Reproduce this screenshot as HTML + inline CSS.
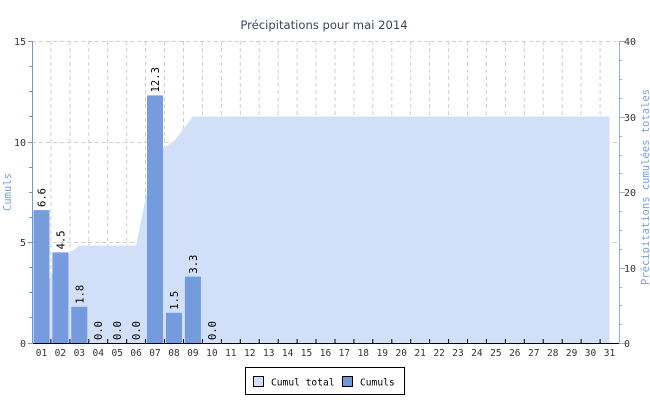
<!DOCTYPE html>
<html><head><meta charset="utf-8"><style>
html,body{margin:0;padding:0;background:#fff;}
svg{display:block;}
text{font-family:"DejaVu Sans Mono","Liberation Mono",monospace;}
</style></head><body>
<svg width="650" height="400" viewBox="0 0 650 400">
<text x="324" y="29" text-anchor="middle" style="font-family:'DejaVu Sans','Liberation Sans',sans-serif" font-size="11.6" fill="#3c4558">Précipitations pour mai 2014</text>
<g stroke="#cfcfcf" stroke-dasharray="4,3" stroke-width="1">
<line x1="32" y1="41.5" x2="619" y2="41.5"/>
<line x1="32" y1="142.5" x2="619" y2="142.5"/>
<line x1="32" y1="242.5" x2="619" y2="242.5"/>
<path d="M50.9 41V343M69.9 41V343M88.8 41V343M107.7 41V343M126.7 41V343M145.6 41V343M164.5 41V343M183.5 41V343M202.4 41V343M221.4 41V343M240.3 41V343M259.2 41V343M278.2 41V343M297.1 41V343M316 41V343M335 41V343M353.9 41V343M372.8 41V343M391.8 41V343M410.7 41V343M429.6 41V343M448.6 41V343M467.5 41V343M486.4 41V343M505.4 41V343M524.3 41V343M543.2 41V343M562.2 41V343M581.1 41V343M600.1 41V343"/>
</g>
<polygon fill="#d2dff8" points="41.5,343 41.5,293.2 60.4,259.2 79.3,245.6 136.1,245.6 155,152.7 174,141.4 192.9,116.5 609.5,116.5 609.5,343"/>
<g fill="#6f97dc" fill-opacity="0.95">
<rect x="33.5" y="210.1" width="16" height="132.9"/>
<rect x="52.4" y="252.4" width="16" height="90.6"/>
<rect x="71.3" y="306.8" width="16" height="36.2"/>
<rect x="147" y="95.4" width="16" height="247.6"/>
<rect x="166" y="312.8" width="16" height="30.2"/>
<rect x="184.9" y="276.6" width="16" height="66.4"/>
</g>
<g font-size="10.5" fill="#000">
<text transform="translate(45.5,207) rotate(-90)">6.6</text>
<text transform="translate(64.4,249.4) rotate(-90)">4.5</text>
<text transform="translate(83.3,303.8) rotate(-90)">1.8</text>
<text transform="translate(102.2,340) rotate(-90)">0.0</text>
<text transform="translate(121.2,340) rotate(-90)">0.0</text>
<text transform="translate(140.1,340) rotate(-90)">0.0</text>
<text transform="translate(159,92.4) rotate(-90)">12.3</text>
<text transform="translate(178,309.8) rotate(-90)">1.5</text>
<text transform="translate(196.9,273.6) rotate(-90)">3.3</text>
<text transform="translate(215.9,340) rotate(-90)">0.0</text>
</g>
<line x1="32.5" y1="41" x2="32.5" y2="344" stroke="#6f97dc"/>
<line x1="619.5" y1="41" x2="619.5" y2="344" stroke="#8fb0ea"/>
<line x1="32" y1="343.5" x2="620" y2="343.5" stroke="#000"/>
<g stroke="#6f97dc">
<path d="M28 41.5H33M29 66.5H33M29 91.5H33M29 116.5H33M28 142.5H33M29 167.5H33M29 192.5H33M29 217.5H33M28 242.5H33M29 267.5H33M29 292.5H33M29 317.5H33M28 343.5H33"/>
</g>
<g stroke="#8fb0ea">
<path d="M619 41.5H625M619 60.5H622M619 79.5H622M619 98.5H622M619 117.5H625M619 136.5H622M619 155.5H622M619 173.5H622M619 192.5H625M619 211.5H622M619 230.5H622M619 249.5H622M619 268.5H625M619 287.5H622M619 305.5H622M619 324.5H622M619 343.5H625"/>
</g>
<path stroke="#000" d="M50.9 339V344M69.9 339V344M88.8 339V344M107.7 339V344M126.7 339V344M145.6 339V344M164.5 339V344M183.5 339V344M202.4 339V344M221.4 339V344M240.3 339V344M259.2 339V344M278.2 339V344M297.1 339V344M316 339V344M335 339V344M353.9 339V344M372.8 339V344M391.8 339V344M410.7 339V344M429.6 339V344M448.6 339V344M467.5 339V344M486.4 339V344M505.4 339V344M524.3 339V344M543.2 339V344M562.2 339V344M581.1 339V344M600.1 339V344"/>
<g font-size="10" fill="#333" text-anchor="end" style="font-family:'DejaVu Sans','Liberation Sans',sans-serif">
<text x="26" y="45">15</text><text x="26" y="146">10</text><text x="26" y="246">5</text><text x="26" y="347">0</text>
</g>
<g font-size="10" fill="#333" style="font-family:'DejaVu Sans','Liberation Sans',sans-serif">
<text x="624" y="45">40</text><text x="624" y="121">30</text><text x="624" y="196">20</text><text x="624" y="272">10</text><text x="624" y="347">0</text>
</g>
<text transform="translate(11,192) rotate(-90)" text-anchor="middle" font-size="10.5" fill="#7aa0e8">Cumuls</text>
<text transform="translate(649,187) rotate(-90)" text-anchor="middle" font-size="10.5" fill="#7aa0e8">Précipitations cumulées totales</text>
<g font-size="9.5" fill="#333" text-anchor="middle" style="font-family:'DejaVu Sans','Liberation Sans',sans-serif">
<text x="41.5" y="356">01</text><text x="60.4" y="356">02</text><text x="79.3" y="356">03</text><text x="98.2" y="356">04</text><text x="117.2" y="356">05</text><text x="136.1" y="356">06</text><text x="155" y="356">07</text><text x="174" y="356">08</text><text x="192.9" y="356">09</text><text x="211.9" y="356">10</text><text x="230.8" y="356">11</text><text x="249.7" y="356">12</text><text x="268.7" y="356">13</text><text x="287.6" y="356">14</text><text x="306.5" y="356">15</text><text x="325.5" y="356">16</text><text x="344.4" y="356">17</text><text x="363.3" y="356">18</text><text x="382.3" y="356">19</text><text x="401.2" y="356">20</text><text x="420.1" y="356">21</text><text x="439.1" y="356">22</text><text x="458" y="356">23</text><text x="476.9" y="356">24</text><text x="495.9" y="356">25</text><text x="514.8" y="356">26</text><text x="533.7" y="356">27</text><text x="552.7" y="356">28</text><text x="571.6" y="356">29</text><text x="590.5" y="356">30</text><text x="609.5" y="356">31</text>
</g>
<rect x="245.5" y="367.5" width="159" height="27" fill="#fff" stroke="#000"/>
<rect x="253.5" y="376.5" width="10" height="10" fill="#d2dff8" stroke="#000"/>
<text x="271" y="385.5" font-size="9.6" fill="#000">Cumul total</text>
<rect x="342.5" y="376.5" width="10" height="10" fill="#6f97dc" stroke="#000"/>
<text x="360" y="385.5" font-size="9.6" fill="#000">Cumuls</text>
</svg>
</body></html>
